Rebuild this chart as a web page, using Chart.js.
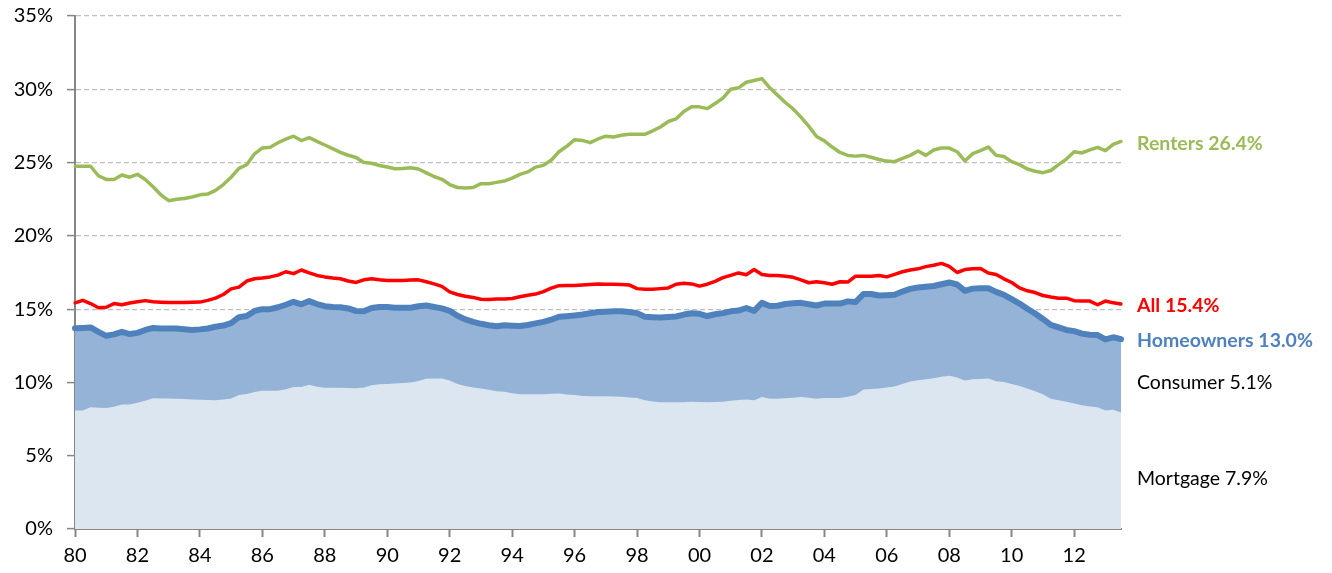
<!DOCTYPE html>
<html>
<head>
<meta charset="utf-8">
<script src="https://cdn.jsdelivr.net/npm/chart.js@4.4.1/dist/chart.umd.min.js"></script>
<style>
  body { margin: 0; background: #fff; }
  #wrap { width: 1332px; height: 573px; position: relative; }
</style>
</head>
<body>
<div id="wrap"><canvas id="burdenChart"></canvas></div>
<script>
// Quarterly categories, 1980Q1 .. 2013Q3
const quarters = [];
for (let y = 1980; y <= 2013; y++) {
  for (let q = 1; q <= 4; q++) {
    if (y === 2013 && q > 3) break;
    quarters.push(y + 'Q' + q);
  }
}

const renters = [
  24.75, 24.75, 24.75, 24.1, 23.85, 23.85, 24.15, 24.0, 24.2, 23.85,
  23.35, 22.8, 22.4, 22.5, 22.55, 22.65, 22.8, 22.85, 23.1, 23.5,
  24.0, 24.6, 24.85, 25.6, 26.0, 26.05, 26.35, 26.6, 26.8, 26.5,
  26.7, 26.45, 26.2, 25.95, 25.7, 25.5, 25.35, 25.0, 24.95, 24.8,
  24.7, 24.58, 24.6, 24.65, 24.56, 24.3, 24.05, 23.86, 23.5, 23.3,
  23.26, 23.3, 23.56, 23.56, 23.65, 23.74, 23.94, 24.19, 24.36, 24.69,
  24.81, 25.16, 25.74, 26.11, 26.56, 26.51, 26.36, 26.61, 26.8, 26.74,
  26.86, 26.93, 26.93, 26.93, 27.16, 27.43, 27.8, 27.98, 28.48, 28.8,
  28.8, 28.68, 29.03, 29.4, 30.0, 30.1, 30.48, 30.6, 30.73, 30.1,
  29.6, 29.1, 28.66, 28.1, 27.48, 26.78, 26.48, 26.06, 25.69, 25.49,
  25.44, 25.49, 25.36, 25.21, 25.1, 25.06, 25.29, 25.49, 25.79, 25.49,
  25.86, 25.99, 25.99, 25.74, 25.11, 25.61, 25.81, 26.06, 25.49, 25.41,
  25.06, 24.86, 24.56, 24.41, 24.31, 24.46, 24.86, 25.24, 25.74, 25.66,
  25.86, 26.04, 25.81, 26.24, 26.44
];

const allHouseholds = [
  15.43, 15.6, 15.38, 15.1, 15.13, 15.38, 15.3, 15.42, 15.5, 15.58,
  15.5, 15.47, 15.45, 15.45, 15.45, 15.47, 15.48, 15.6, 15.75, 16.0,
  16.38, 16.5, 16.92, 17.07, 17.12, 17.2, 17.32, 17.55, 17.42, 17.67,
  17.47, 17.3, 17.2, 17.12, 17.07, 16.92, 16.82, 17.0, 17.07, 17.0,
  16.95, 16.95, 16.95, 16.98, 17.0, 16.87, 16.72, 16.55, 16.18, 16.0,
  15.88, 15.8, 15.68, 15.65, 15.7, 15.7, 15.73, 15.85, 15.95, 16.03,
  16.2, 16.43, 16.6, 16.62, 16.62, 16.65, 16.68, 16.72, 16.7, 16.7,
  16.68, 16.65, 16.4, 16.35, 16.35, 16.4, 16.45, 16.7, 16.77, 16.72,
  16.57, 16.7, 16.9, 17.15, 17.3, 17.47, 17.35, 17.7, 17.37, 17.3,
  17.3, 17.25, 17.17, 17.0, 16.8, 16.87, 16.8, 16.7, 16.87, 16.85,
  17.25, 17.25, 17.25, 17.3, 17.2, 17.37, 17.55, 17.67, 17.75, 17.9,
  18.0, 18.12, 17.92, 17.5, 17.7, 17.75, 17.77, 17.47, 17.37, 17.07,
  16.82, 16.45, 16.25, 16.13, 15.93, 15.83, 15.75, 15.75, 15.58, 15.55,
  15.55, 15.3, 15.55, 15.43, 15.35
];

const homeowners = [
  13.7, 13.72, 13.75, 13.45, 13.18, 13.28, 13.45, 13.3, 13.38, 13.58,
  13.72, 13.68, 13.68, 13.68, 13.63, 13.58, 13.62, 13.68, 13.8, 13.88,
  14.05, 14.45, 14.53, 14.88, 15.0, 15.0, 15.13, 15.3, 15.5, 15.33,
  15.55, 15.35, 15.2, 15.15, 15.13, 15.05, 14.88, 14.85, 15.08, 15.15,
  15.15, 15.1, 15.1, 15.1, 15.2, 15.25, 15.15, 15.05, 14.88, 14.55,
  14.3, 14.13, 14.0, 13.9, 13.83, 13.9, 13.87, 13.85, 13.92, 14.03,
  14.13, 14.28, 14.48, 14.52, 14.57, 14.63, 14.72, 14.8, 14.83, 14.85,
  14.85, 14.8, 14.73, 14.48, 14.45, 14.43, 14.46, 14.5, 14.63, 14.72,
  14.68, 14.53, 14.65, 14.73, 14.85, 14.9, 15.08, 14.88, 15.43, 15.22,
  15.23, 15.35, 15.4, 15.43, 15.33, 15.25, 15.38, 15.38, 15.38, 15.53,
  15.48, 16.03, 16.03, 15.93, 15.95, 15.98, 16.2, 16.38, 16.48, 16.53,
  16.58, 16.7, 16.82, 16.68, 16.25, 16.4, 16.43, 16.43, 16.18, 15.98,
  15.68, 15.38, 15.03, 14.7, 14.33, 13.93, 13.75, 13.58, 13.5, 13.33,
  13.25, 13.23, 12.93, 13.08, 12.95
];

const mortgage = [
  8.09, 8.09, 8.3, 8.28, 8.26, 8.34, 8.49, 8.49, 8.62, 8.75,
  8.92, 8.91, 8.9, 8.89, 8.87, 8.84, 8.81, 8.8, 8.79, 8.84,
  8.9, 9.14, 9.21, 9.34, 9.44, 9.44, 9.44, 9.54, 9.69, 9.69,
  9.84, 9.7, 9.64, 9.64, 9.64, 9.62, 9.6, 9.65, 9.8, 9.87,
  9.89, 9.93, 9.96, 10.0, 10.1, 10.25, 10.26, 10.26, 10.13, 9.9,
  9.75, 9.66, 9.58, 9.5, 9.39, 9.36, 9.26, 9.2, 9.19, 9.19,
  9.19, 9.22, 9.24, 9.18, 9.14, 9.08, 9.06, 9.06, 9.06, 9.04,
  9.02, 8.98, 8.94, 8.78, 8.7, 8.65, 8.64, 8.64, 8.65, 8.68,
  8.67, 8.64, 8.66, 8.69, 8.75, 8.8, 8.84, 8.79, 9.01, 8.89,
  8.89, 8.92, 8.96, 9.01, 8.95, 8.89, 8.93, 8.94, 8.94, 9.02,
  9.14, 9.51, 9.56, 9.59, 9.66, 9.72, 9.89, 10.06, 10.15, 10.22,
  10.28, 10.38, 10.46, 10.33, 10.13, 10.21, 10.24, 10.26, 10.08, 10.03,
  9.9, 9.75, 9.59, 9.4, 9.2, 8.89, 8.78, 8.68, 8.56, 8.45,
  8.36, 8.31, 8.09, 8.14, 7.94
];

const yTicks = [0, 5, 10, 15, 20, 25, 30, 35];

// right-hand labels
const endLabels = ['Renters 26.4%', 'All 15.4%', 'Homeowners 13.0%', 'Consumer 5.1%', 'Mortgage 7.9%'];
const endColors = ['#9BBB59', '#FF0000', '#4F81BD', '#000000', '#000000'];
const endBold = [true, true, true, false, false];

const isYearTick = (i) => i % 8 === 0;

// draws the series names next to the right end of the plot
const endLabelPlugin = {
  id: 'endLabels',
  afterDraw(chart) {
    const { ctx, chartArea, scales } = chart;
    const y = scales.y;
    const n = quarters.length - 1;
    const anchors = [
      renters[n],
      allHouseholds[n],
      homeowners[n],
      (homeowners[n] + mortgage[n]) / 2 - 0.35,
      mortgage[n] / 2 - 0.4
    ];
    ctx.save();
    ctx.textBaseline = 'middle';
    ctx.textAlign = 'left';
    endLabels.forEach((txt, i) => {
      ctx.font = (endBold[i] ? 'bold ' : '') + '19.5px Lato';
      ctx.fillStyle = endColors[i];
      ctx.fillText(txt, chartArea.right + 16, y.getPixelForValue(anchors[i]) + 2);
    });
    ctx.restore();
  }
};

const ctx = document.getElementById('burdenChart').getContext('2d');

new Chart(ctx, {
  type: 'line',
  data: {
    labels: quarters,
    datasets: [
      {
        label: 'Renters',
        data: renters,
        borderColor: '#9BBB59',
        borderWidth: 3.5,
        fill: false
      },
      {
        label: 'All',
        data: allHouseholds,
        borderColor: '#FF0000',
        borderWidth: 3.5,
        fill: false
      },
      {
        label: 'Mortgage',
        data: mortgage,
        borderWidth: 0,
        borderColor: 'rgba(0,0,0,0)',
        backgroundColor: '#DCE6F1',
        fill: 'origin'
      },
      {
        label: 'Homeowners',
        data: homeowners,
        borderColor: '#4F81BD',
        borderWidth: 6,
        backgroundColor: '#95B3D7',
        fill: 'origin'
      }
    ]
  },
  options: {
    responsive: true,
    maintainAspectRatio: false,
    animation: false,
    layout: { padding: { top: 16, right: 211, left: 0, bottom: 0 } },
    elements: {
      point: { radius: 0 },
      line: { tension: 0, borderCapStyle: 'round', borderJoinStyle: 'round' }
    },
    plugins: {
      legend: { display: false },
      tooltip: { enabled: false }
    },
    scales: {
      x: {
        type: 'category',
        offset: false,
        afterFit: (scale) => { scale.height = 44; },
        border: { color: '#868686', width: 2 },
        grid: {
          drawOnChartArea: false,
          drawTicks: true,
          tickLength: 8,
          tickWidth: 2,
          tickColor: (c) => (isYearTick(c.index) ? '#868686' : 'rgba(0,0,0,0)')
        },
        ticks: {
          autoSkip: false,
          maxRotation: 0,
          padding: 7,
          color: '#000',
          font: { family: 'Lato', size: 20 },
          callback: function (value, index) {
            if (!isYearTick(index)) return '';
            return this.getLabelForValue(value).slice(2, 4);
          }
        }
      },
      y: {
        min: 0,
        max: 35,
        afterFit: (scale) => {
          scale.width = 75;
          scale.paddingTop = 0;
          scale.paddingBottom = 0;
        },
        afterBuildTicks: (scale) => { scale.ticks = yTicks.map((v) => ({ value: v })); },
        border: { color: '#868686', width: 2, dash: [5, 3] },
        grid: {
          color: '#BFBFBF',
          lineWidth: 1.2,
          tickLength: 8,
          tickColor: '#868686',
          tickWidth: 1.5
        },
        ticks: {
          padding: 14,
          color: '#000',
          font: { family: 'Lato', size: 20 },
          callback: (v) => v + '%'
        }
      }
    }
  },
  plugins: [endLabelPlugin]
});
</script>
</body>
</html>
